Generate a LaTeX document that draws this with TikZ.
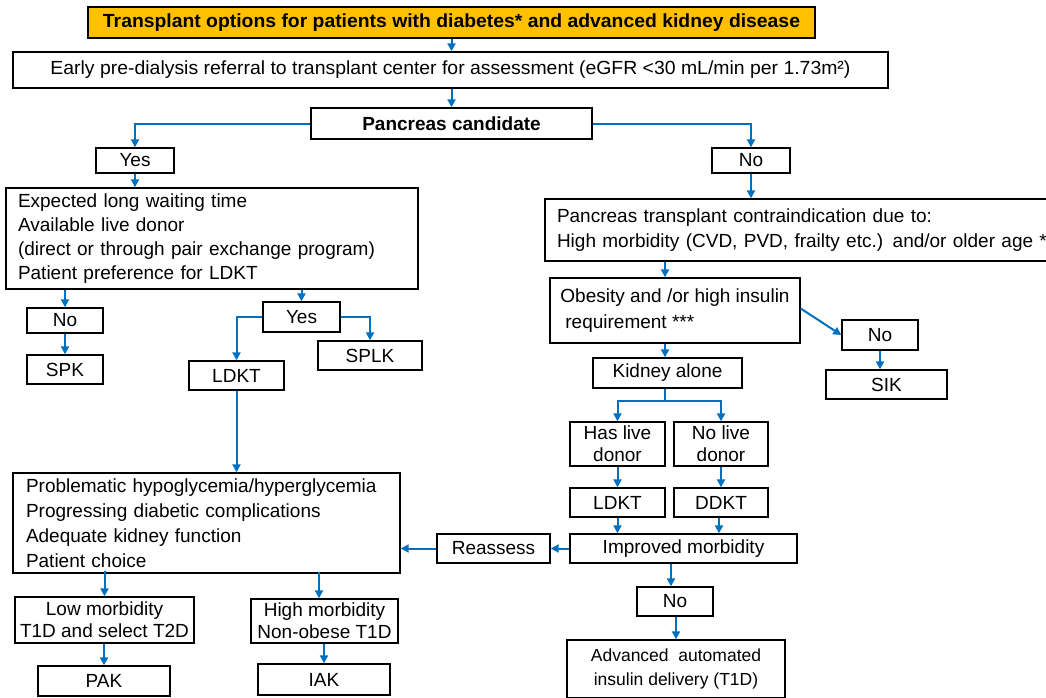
\documentclass[tikz,border=0pt]{standalone}
\usepackage{fontspec}
\setmainfont{Liberation Sans}
\usetikzlibrary{arrows.meta}
\definecolor{arr}{HTML}{0070C0}
\definecolor{ttl}{HTML}{FFC000}
\tikzset{
 bx/.style={draw=black, line width=1.4pt, fill=white, inner sep=0pt, font=\fontsize{19}{22}\selectfont, align=center},
 lbox/.style={bx, align=left, inner xsep=12pt},
 ar/.style={draw=arr, line width=2pt, -{Triangle[length=8pt,width=8pt]}},
 ln/.style={draw=arr, line width=2pt},
}
\begin{document}
\begin{tikzpicture}[x=1pt,y=-1pt]
\useasboundingbox (0,0) rectangle (1046,697);
\clip (0,0) rectangle (1046,697);
\fill[white] (0,0) rectangle (1046,697);
% nodes
\node[bx, fill=ttl, minimum width=727pt, minimum height=31pt] (title) at (451.5,22.5) {\resizebox{697pt}{\height}{\bfseries Transplant options for patients with diabetes* and advanced kidney disease}};
\node[bx, minimum width=875pt, minimum height=36pt] (ref) at (450.5,70) {\resizebox{800pt}{\height}{Early pre-dialysis referral to transplant center for assessment (eGFR <30 mL/min per 1.73m²)}};
\node[bx, minimum width=281pt, minimum height=31pt, font=\fontsize{19}{22}\selectfont\bfseries] (pc) at (451.5,123.5) {Pancreas candidate};
\node[bx, minimum width=78pt, minimum height=25pt] (yes1) at (135,160.5) {Yes};
\node[bx, minimum width=78pt, minimum height=25pt] (no1) at (751,160.5) {No};
\node[lbox, minimum width=412pt, minimum height=101pt, text width=388pt, font=\fontsize{19}{24}\selectfont] (exp) at (212,238.5) {Expected long waiting time\\Available live donor\\(direct or through pair exchange program)\\Patient preference for LDKT};
\node[bx, minimum width=76pt, minimum height=25pt] (no2) at (65,320.5) {No};
\node[bx, minimum width=76pt, minimum height=29pt] (spk) at (65,369.5) {SPK};
\node[bx, minimum width=77pt, minimum height=30pt] (yes2) at (301.5,317) {Yes};
\node[bx, minimum width=95pt, minimum height=29pt] (ldkta) at (236.5,375.5) {LDKT};
\node[bx, minimum width=104pt, minimum height=29pt] (splk) at (370,355.5) {SPLK};
\node[lbox, inner xsep=13pt, minimum width=387pt, minimum height=100pt, text width=361pt, font=\fontsize{19}{25}\selectfont] (prob) at (206.5,523) {Problematic hypoglycemia/hyperglycemia\\Progressing diabetic complications\\Adequate kidney function\\Patient choice};
\node[bx, minimum width=179pt, minimum height=46pt] (low) at (104.5,620) {Low morbidity\\T1D and select T2D};
\node[bx, minimum width=132pt, minimum height=30pt] (pak) at (104,681) {PAK};
\node[bx, minimum width=147pt, minimum height=44pt] (high) at (324.5,621) {High morbidity\\Non-obese T1D};
\node[bx, minimum width=132pt, minimum height=31pt] (iak) at (324,679.5) {IAK};
\node[lbox, minimum width=605pt, minimum height=62pt, text width=581pt, font=\fontsize{19}{25}\selectfont] (contra) at (847.5,230) {Pancreas transplant contraindication due to:\\High morbidity (CVD, PVD, frailty etc.) and/or older age **};
\node[bx, align=left, minimum width=250pt, minimum height=65pt, font=\fontsize{19}{26}\selectfont] (obes) at (675,310.5) {Obesity and /or high insulin\\\hspace*{5pt}requirement ***};
\node[bx, minimum width=149pt, minimum height=30pt] (kid) at (667.5,373) {Kidney alone};
\node[bx, minimum width=76pt, minimum height=30pt] (no3) at (880,335) {No};
\node[bx, minimum width=121pt, minimum height=29pt] (sik) at (886.5,384.5) {SIK};
\node[bx, minimum width=95pt, minimum height=44pt] (has) at (617.5,444) {Has live\\donor};
\node[bx, minimum width=94pt, minimum height=44pt] (nol) at (721,444) {No live\\donor};
\node[bx, minimum width=95pt, minimum height=29pt] (ldktb) at (617.5,502.5) {LDKT};
\node[bx, minimum width=94pt, minimum height=29pt] (ddkt) at (721,502.5) {DDKT};
\node[bx, minimum width=227pt, minimum height=29pt] (imp) at (683.5,548.5) {Improved morbidity};
\node[bx, minimum width=113pt, minimum height=29pt] (reas) at (493.5,548.5) {Reassess};
\node[bx, minimum width=76pt, minimum height=29pt] (no4) at (675,601.5) {No};
\node[bx, minimum width=218pt, minimum height=58pt, font=\fontsize{17.5}{24}\selectfont] (adv) at (676,669) {Advanced\ \ automated\\insulin delivery (T1D)};
% connectors
\draw[ar] (title.south) -- (title.south |- ref.north);
\draw[ar] (pc.north |- ref.south) -- (pc.north);
\draw[ar] (pc.west) -| (yes1.north);
\draw[ar] (pc.east) -| (no1.north);
\draw[ar] (yes1.south) -- (yes1.south |- exp.north);
\draw[ar] (no2.north |- exp.south) -- (no2.north);
\draw[ar] (no2.south) -- (spk.north);
\draw[ar] (yes2.north |- exp.south) -- (yes2.north);
\draw[ar] (yes2.west) -| (ldkta.north);
\draw[ar] (yes2.east) -| (splk.north);
\draw[ar] (ldkta.south) -- (ldkta.south |- prob.north);
\draw[ar] ([yshift=3pt]low.north |- prob.south) -- (low.north);
\draw[ar] (pak.north |- low.south) -- (pak.north);
\draw[ar] ([xshift=-5.5pt,yshift=2pt]high.north |- prob.south) -- ([xshift=-5.5pt]high.north);
\draw[ar] (iak.north |- high.south) -- (iak.north);
\draw[ar] (no1.south) -- (no1.south |- contra.north);
\draw[ar] ([xshift=-10pt]obes.north |- contra.south) -- ([xshift=-10pt]obes.north);
\draw[ar] ([yshift=2pt]obes.east) -- (no3.west);
\draw[ar] (no3.south) -- (no3.south |- sik.north);
\draw[ar] ([xshift=-10pt]obes.south) -- ([xshift=-10pt]obes.south |- kid.north);
\draw[ln] ([xshift=-2.5pt]kid.south) -- ++(0,12) coordinate (split);
\draw[ar] (split) -| (has.north);
\draw[ar] (split) -| (nol.north);
\draw[ar] (has.south) -- (ldktb.north);
\draw[ar] (nol.south) -- (ddkt.north);
\draw[ar] (ldktb.south) -- (ldktb.south |- imp.north);
\draw[ar] ([xshift=-2pt]ddkt.south) -- ([xshift=-2pt]ddkt.south |- imp.north);
\draw[ar] (imp.west) -- (reas.east);
\draw[ar] (reas.west) -- (reas.west -| prob.east);
\draw[ar] ([xshift=-4pt]no4.north |- imp.south) -- ([xshift=-4pt]no4.north);
\draw[ar] (adv.north |- no4.south) -- (adv.north);
\end{tikzpicture}
\end{document}
